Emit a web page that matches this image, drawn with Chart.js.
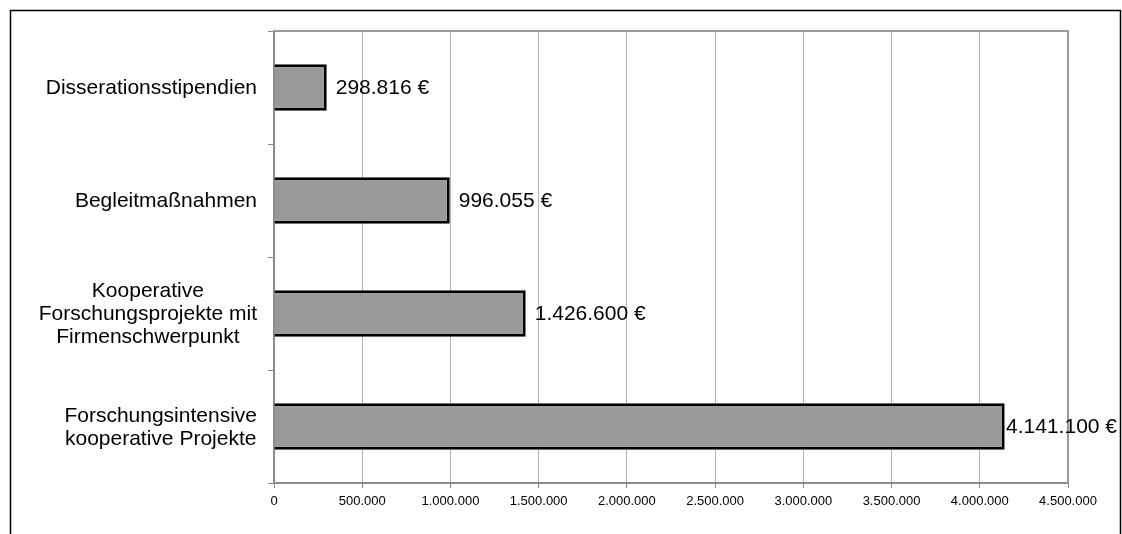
<!DOCTYPE html>
<html>
<head>
<meta charset="utf-8">
<script src="https://cdn.jsdelivr.net/npm/chart.js@4/dist/chart.umd.min.js"></script>
<style>
  html, body { margin: 0; padding: 0; background: #fff; }
  canvas { display: block; }
</style>
</head>
<body>
<canvas id="fundingChart" width="1122" height="534"></canvas>
<script>
// Programme lines (top to bottom) and funding amounts in euro
const categories = [
    ['Disserationsstipendien'],
    ['Begleitmaßnahmen'],
    ['Kooperative', 'Forschungsprojekte mit', 'Firmenschwerpunkt'],
    ['Forschungsintensive', 'kooperative Projekte']
];
const amounts = [298816, 996055, 1426600, 4141100];
const axisMax = 4500000;
const axisStep = 500000;

const FONT = "'Liberation Sans', Arial, sans-serif";

function formatThousands(n) {
    return String(Math.round(n)).replace(/\B(?=(\d{3})+(?!\d))/g, '.');
}

// outer frame, plot frame, category names and value labels
const decorations = {
    id: 'decorations',
    beforeDraw(chart) {
        const ctx = chart.ctx;
        ctx.save();
        ctx.strokeStyle = '#000';
        ctx.lineWidth = 1.5;
        ctx.strokeRect(10.5, 10.5, 1110, 600);
        ctx.restore();
    },
    beforeDatasetsDraw(chart) {
        const ctx = chart.ctx;
        const a = chart.chartArea;
        ctx.save();
        ctx.strokeStyle = '#9a9a9a';
        ctx.lineWidth = 2;
        ctx.beginPath();
        ctx.moveTo(a.left, a.top);
        ctx.lineTo(a.right, a.top);
        ctx.lineTo(a.right, a.bottom);
        ctx.stroke();
        ctx.restore();
    },
    afterDatasetsDraw(chart) {
        const ctx = chart.ctx;
        const yScale = chart.scales.y;
        const bars = chart.getDatasetMeta(0).data;
        ctx.save();
        ctx.font = '21px ' + FONT;
        ctx.fillStyle = '#000';
        ctx.textBaseline = 'middle';

        // category names, centred block to the left of the axis
        categories.forEach((lines, i) => {
            const cy = yScale.getPixelForValue(i);
            const maxW = Math.max(...lines.map(l => ctx.measureText(l).width));
            const cx = 257 - maxW / 2;
            const lh = 23;
            ctx.textAlign = 'center';
            lines.forEach((line, j) => {
                ctx.fillText(line, cx, cy + 1 + (j - (lines.length - 1) / 2) * lh);
            });
        });

        // value labels after each bar, kept inside the frame
        ctx.textAlign = 'left';
        bars.forEach((bar, i) => {
            const text = formatThousands(amounts[i]) + ' €';
            const w = ctx.measureText(text).width;
            let x = bar.x + 9;
            if (x + w > 1117) x = Math.max(bar.x, 1117 - w);
            ctx.fillText(text, x, bar.y + 1);
        });
        ctx.restore();
    }
};

new Chart(document.getElementById('fundingChart'), {
    type: 'bar',
    data: {
        labels: categories,
        datasets: [{
            data: amounts,
            backgroundColor: '#999999',
            borderColor: '#000000',
            borderWidth: 3,
            categoryPercentage: 1,
            barPercentage: 0.41
        }]
    },
    options: {
        indexAxis: 'y',
        responsive: false,
        animation: false,
        layout: { padding: { left: 0, top: 31, right: 54, bottom: 0 } },
        plugins: {
            legend: { display: false },
            tooltip: { enabled: false }
        },
        scales: {
            x: {
                min: 0,
                max: axisMax,
                border: { color: '#8c8c8c', width: 2 },
                grid: {
                    color: '#b4b4b4',
                    lineWidth: 1,
                    tickColor: '#8c8c8c',
                    tickLength: 5
                },
                ticks: {
                    stepSize: axisStep,
                    color: '#000',
                    padding: 6,
                    maxRotation: 0,
                    font: { family: FONT, size: 13 },
                    callback: v => formatThousands(v)
                },
                afterFit(scale) { scale.height = 51; }
            },
            y: {
                border: { color: '#8c8c8c', width: 2 },
                grid: {
                    drawOnChartArea: false,
                    tickColor: '#8c8c8c',
                    tickLength: 6
                },
                ticks: { display: false },
                afterFit(scale) { scale.width = 274; }
            }
        }
    },
    plugins: [decorations]
});
</script>
</body>
</html>
